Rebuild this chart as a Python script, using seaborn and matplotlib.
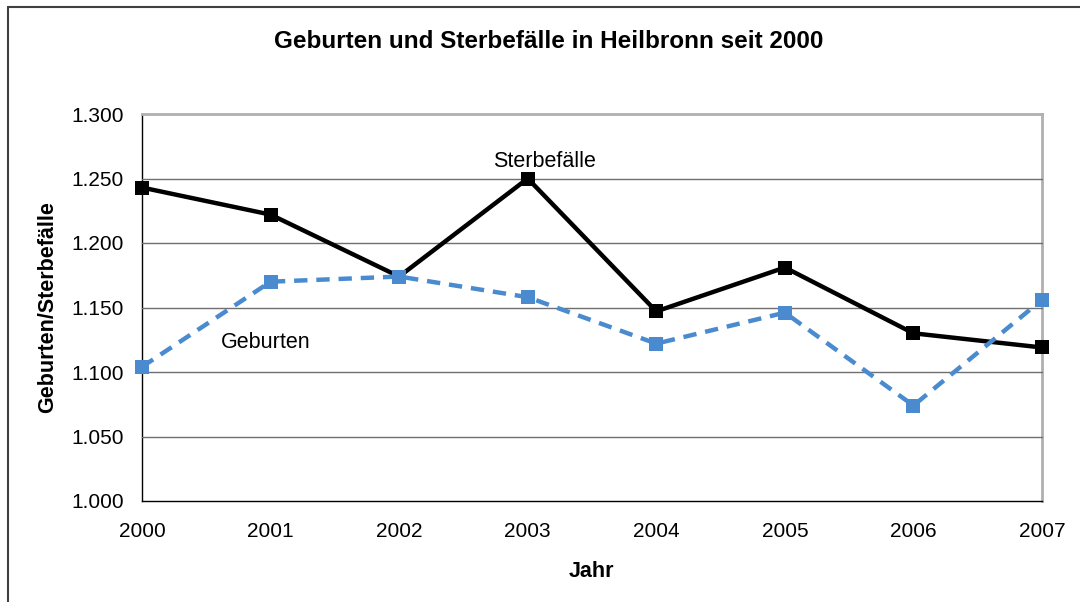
import numpy as np
import matplotlib.pyplot as plt
import seaborn as sns
import pandas as pd
from matplotlib.lines import Line2D
from matplotlib.ticker import FuncFormatter

# Werte (in Tausend)
jahre = [2000, 2001, 2002, 2003, 2004, 2005, 2006, 2007]
sterbefaelle = [1.243, 1.222, 1.174, 1.250, 1.147, 1.181, 1.130, 1.119]
geburten = [1.104, 1.170, 1.174, 1.158, 1.122, 1.146, 1.074, 1.156]
y_ticks = [1.000, 1.050, 1.100, 1.150, 1.200, 1.250, 1.300]

df = pd.DataFrame({"Jahr": jahre + jahre,
                   "Wert": sterbefaelle + geburten,
                   "Reihe": ["Sterbefälle"] * len(jahre) + ["Geburten"] * len(jahre)})

sns.set_style("white")
plt.rcParams['font.family'] = ['Liberation Sans', 'DejaVu Sans']
plt.rcParams['text.color'] = 'black'
plt.rcParams['axes.labelcolor'] = 'black'

fig = plt.figure(figsize=(10.8, 6.02), dpi=100)
ax = fig.add_axes([142 / 1080, 1 - 501 / 602, 900 / 1080, 387 / 602])

# outer chart frame (only left/top visible in the crop)
fig.add_artist(Line2D([8 / 1080, 8 / 1080], [0, 1 - 7 / 602], color="#404040", lw=1.5))
fig.add_artist(Line2D([8 / 1080, 1], [1 - 7 / 602, 1 - 7 / 602], color="#404040", lw=1.5))

for y in y_ticks[1:-1]:
    ax.axhline(y, color="#6f6f6f", lw=1.0, zorder=0)

sns.lineplot(data=df, x="Jahr", y="Wert", hue="Reihe", style="Reihe",
             palette={"Sterbefälle": "black", "Geburten": "#4a8bd0"},
             dashes={"Sterbefälle": "", "Geburten": (3, 2)},
             markers={"Sterbefälle": "s", "Geburten": "s"},
             markersize=9.5, markeredgewidth=0, linewidth=3.2, legend=False, ax=ax)
for ln in ax.lines:
    ln.set_clip_on(False)
    ln.set_zorder(3)

ax.set_xlim(2000, 2007)
ax.set_ylim(1.0, 1.3)
ax.set_xticks(jahre)
ax.set_yticks(y_ticks)
ax.yaxis.set_major_formatter(FuncFormatter(lambda v, p: f"{v:.3f}"))
ax.tick_params(axis="both", labelsize=15, direction="out", length=6, width=1, colors="black")
ax.tick_params(axis="x", pad=9)
ax.tick_params(axis="y", pad=7)

for s in ["left", "bottom"]:
    ax.spines[s].set_color("black")
    ax.spines[s].set_linewidth(1.0)
ax.spines["right"].set_color("#b0b0b0")
ax.spines["right"].set_linewidth(2.0)
ax.spines["top"].set_color("#b0b0b0")
ax.spines["top"].set_linewidth(2.0)

ax.set_xlabel("Jahr", fontsize=15.5, fontweight="bold")
ax.set_ylabel("Geburten/Sterbefälle", fontsize=15.5, fontweight="bold")
ax.xaxis.set_label_coords(0.499, -0.155)
ax.yaxis.set_label_coords(-0.093, 0.5)
fig.text(549 / 1080, 1 - 42 / 602, "Geburten und Sterbefälle in Heilbronn seit 2000",
         ha="center", va="center", fontsize=17.5, fontweight="bold")

ax.text(2003.13, 1.263, "Sterbefälle", fontsize=15.5, ha="center", va="center")
ax.text(2000.96, 1.123, "Geburten", fontsize=15.5, ha="center", va="center")

fig.savefig("out.png", dpi=100)
